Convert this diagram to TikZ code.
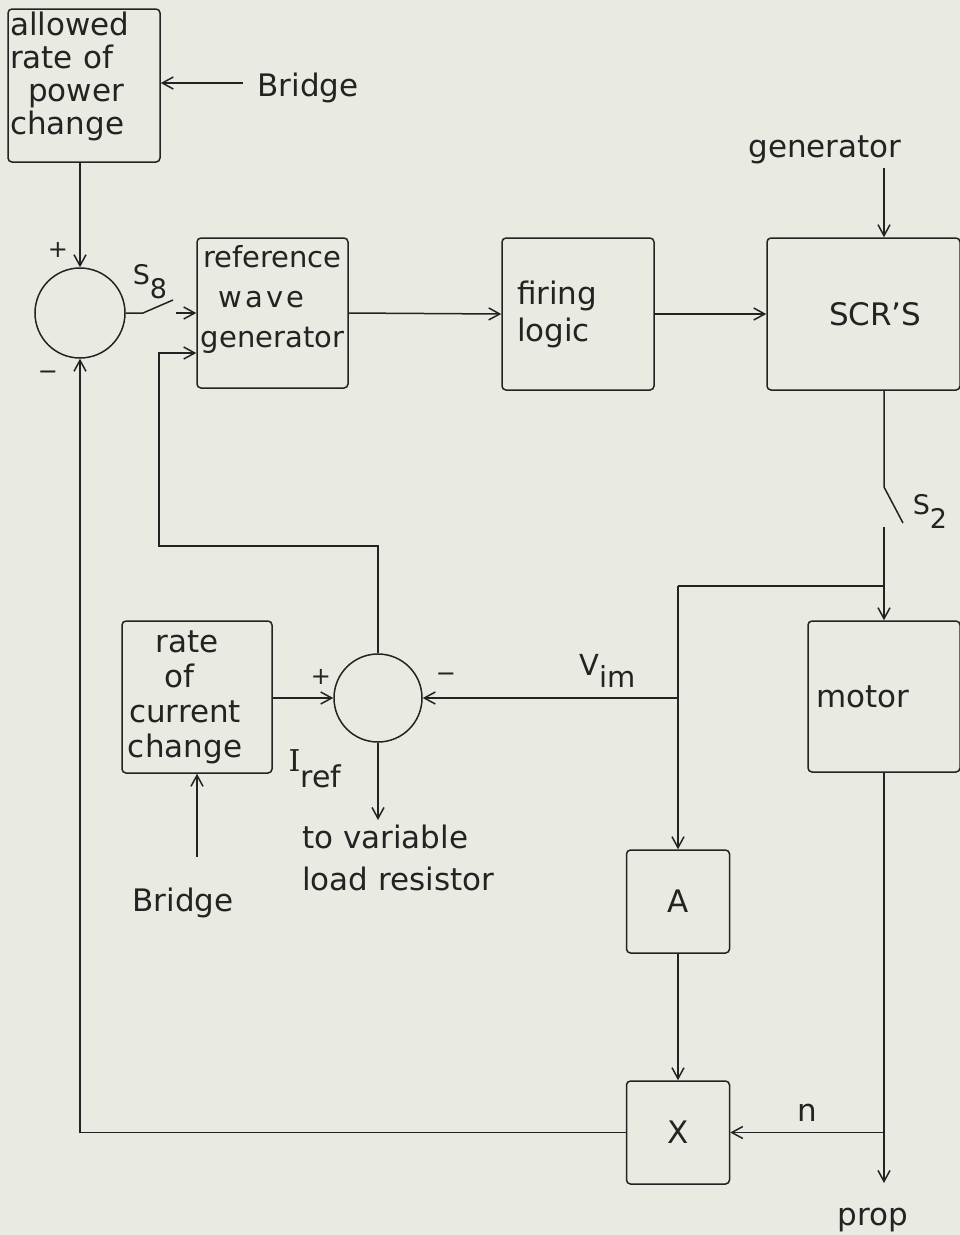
\documentclass[tikz,border=0pt]{standalone}
\usepackage{fontspec}
\setmainfont{DejaVu Sans}
\newfontfamily\serifI{DejaVu Serif}
\usetikzlibrary{arrows.meta}
\definecolor{paper}{RGB}{233,234,225}
\definecolor{ink}{RGB}{35,35,35}
\begin{document}
\begin{tikzpicture}[x=1pt,y=-1pt,
  blk/.style={draw=ink, line width=1.5pt, rounded corners=4pt, inner sep=2pt, text=ink,
              font=\fontsize{31}{33}\selectfont},
  sum/.style={circle, draw=ink, line width=1.5pt, inner sep=0pt},
  ln/.style={draw=ink, line width=1.5pt},
  arr/.style={draw=ink, line width=1.5pt, -{Straight Barb[length=11pt,width=12pt,line width=1.5pt]}},
  txt/.style={text=ink, inner sep=1pt, font=\fontsize{31}{33}\selectfont},
  sml/.style={text=ink, inner sep=1pt, font=\fontsize{27}{27}\selectfont},
  sgn/.style={text=ink, inner sep=1pt, font=\fontsize{24}{24}\selectfont}]
\fill[paper] (0,0) rectangle (960,1235);
\useasboundingbox (0,0) rectangle (960,1235);

% ---- blocks
\node[blk, minimum width=152pt, minimum height=153pt, text width=148pt, inner xsep=1pt, align=left] (pwr) at (84,85.5)
  {allowed\\rate of\\\hspace*{18pt}power\\change\\[-8pt]\mbox{}};
\node[blk, minimum width=151pt, minimum height=150pt, align=center, font=\fontsize{29}{40}\selectfont] (ref) at (272.5,313)
  {reference\\{\addfontfeature{LetterSpace=10}wave}\rule{22pt}{0pt}\\generator\\[-6pt]\mbox{}};
\node[blk, minimum width=152pt, minimum height=152pt, text width=122pt, inner xsep=15pt, align=left,
      font=\fontsize{31}{37}\selectfont] (fir) at (578,314) {firing\\logic};
\node[blk, minimum width=193pt, minimum height=152pt, text width=116pt, align=right] (scr) at (863.5,314) {SCR'S};
\node[blk, minimum width=152pt, minimum height=151pt, text width=136pt, inner xsep=8pt, align=left] (mot) at (884,696.5) {motor};
\node[blk, minimum width=150pt, minimum height=152pt, align=center, font=\fontsize{31}{35}\selectfont] (rc) at (197,697)
  {rate\rule{20pt}{0pt}\\of\rule{36pt}{0pt}\\current\rule{24pt}{0pt}\\change\rule{24pt}{0pt}};
\node[blk, minimum width=103pt, minimum height=103pt] (A) at (678,901.5) {A};
\node[blk, minimum width=103pt, minimum height=103pt] (X) at (678,1132.5) {X};

% ---- summing junctions
\node[sum, minimum size=90pt] (s1) at (80,313) {};
\node[sum, minimum size=88pt] (sb) at (378,698) {};

% ---- labels
\node[txt] (br1) at (308,88) {Bridge};
\node[txt] (gen) at (825,150) {generator};
\node[txt] (br2) at (183,903) {Bridge};
\node[txt, align=left, anchor=north west, font=\fontsize{31}{42}\selectfont] (load) at (301,824) {to variable\\load resistor};
\node[txt] (prop) at (873,1220) {prop};
\node[txt] (nl) at (807,1113) {n};
\node[txt, font=\fontsize{29}{29}\selectfont] (vim) at (608,671) {V\raisebox{-12pt}{im}};
\node[txt, font=\fontsize{30}{30}\selectfont] (iref) at (315,769) {{\serifI I}\raisebox{-16pt}{ref}};
\node[sml] (s8) at (150,282) {S\raisebox{-14pt}{8}};
\node[sml] (s2) at (930,511) {S\raisebox{-14pt}{2}};
\node[sgn] (p1) at (58,250) {+};
\node[sgn] (m1) at (48,375) {−};
\node[sgn] (p2) at (321,677) {+};
\node[sgn] (m2) at (446,677) {−};

% ---- coordinates
\coordinate (b1a) at (243,83);
\coordinate (k8a) at (143,313);
\coordinate (k8b) at (173,300);
\coordinate (k8c) at (176,313);
\coordinate (g1) at (884,168);
\coordinate (k2a) at (884,487);
\coordinate (k2b) at (903,523);
\coordinate (k2c) at (884,527);
\coordinate (j1) at (884,586);
\coordinate (ja) at (678,586);
\coordinate (jv) at (678,698);
\coordinate (lp1) at (159,546);
\coordinate (lp2) at (159,353);
\coordinate (ld) at (378,820);
\coordinate (b2a) at (197,857);
\coordinate (pr) at (884,1183);

% ---- connectors
\draw[arr] (b1a) -- (b1a -| pwr.east);
\draw[arr] (pwr.south -| s1.north) -- (s1.north);
\draw[ln] (s1.east) -- (k8a) -- (k8b);
\draw[arr] (k8c) -- (k8c -| ref.west);
\draw[arr] (ref.east) -- (fir.west);
\draw[arr] (fir.east) -- (scr.west);
\draw[arr] (g1) -- (g1 |- scr.north);
\draw[ln] (scr.south -| k2a) -- (k2a) -- (k2b);
\draw[ln] (k2c) -- (j1);
\draw[arr] (j1) -- (mot.north);
\draw[ln] (j1) -- (ja);
\draw[arr] (ja) -- (A.north);
\draw[arr] (jv) -- (sb.east);
\draw[arr] (rc.east |- sb.west) -- (sb.west);
\draw[arr] (sb.north) |- (lp1) -- (lp2) -- (lp2 -| ref.west);
\draw[arr] (sb.south) -- (ld);
\draw[arr] (b2a) -- (rc.south);
\draw[arr] (A.south) -- (X.north);
\draw[arr] (mot.south) -- (pr);
\draw[arr] (X.east -| mot.south) -- (X.east);
\draw[arr] (X.west) -| (s1.south);
\end{tikzpicture}
\end{document}
